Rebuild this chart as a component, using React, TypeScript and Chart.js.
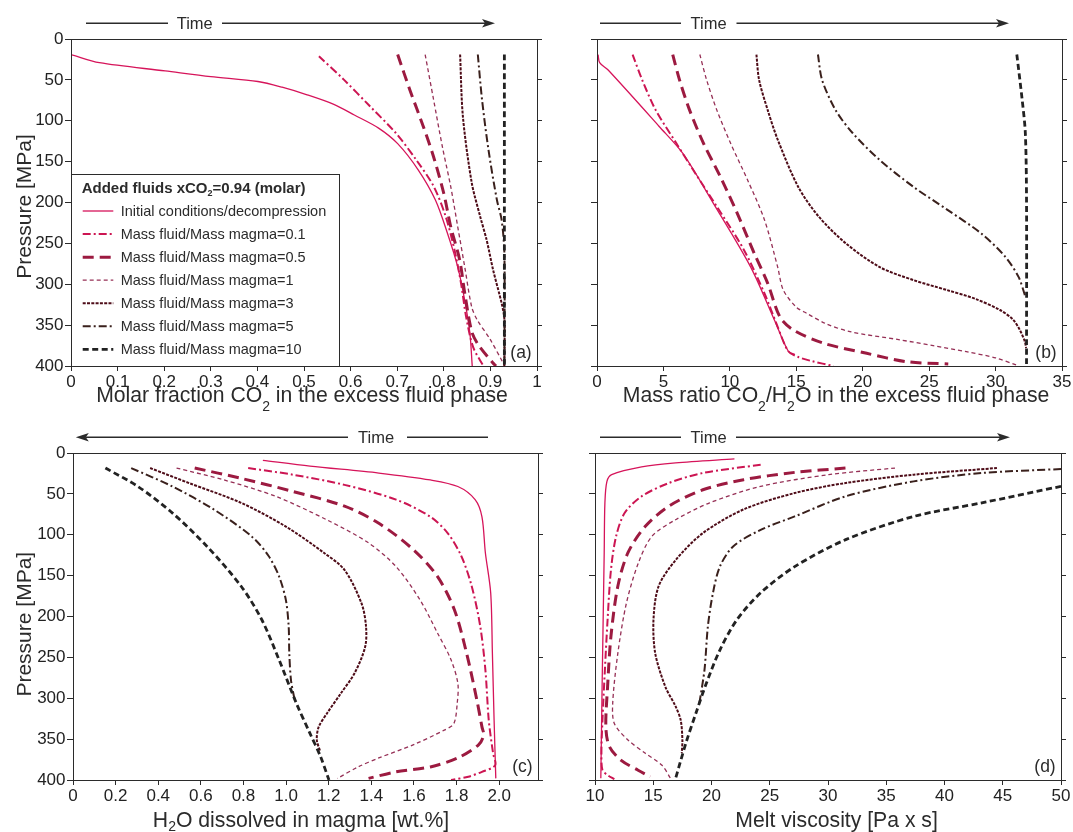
import React, { useEffect, useRef } from 'react';
import { Chart, registerables } from 'chart.js';
Chart.register(...registerables);

type Pt = [number, number];

const FONT = '"Liberation Sans", Arial, Helvetica, sans-serif';
const INK = '#2b2b2b';

// ---------- series styling ----------
const SERIES_NAMES = [
  'Initial conditions/decompression',
  'Mass fluid/Mass magma=0.1',
  'Mass fluid/Mass magma=0.5',
  'Mass fluid/Mass magma=1',
  'Mass fluid/Mass magma=3',
  'Mass fluid/Mass magma=5',
  'Mass fluid/Mass magma=10',
];
const SERIES_COLORS = ['#d6145a', '#cc1552', '#9c1a40', '#963056', '#4e0c18', '#3a201c', '#222222'];
const SERIES_WIDTHS = [1.3, 2, 3, 1.3, 2, 2, 2.8];
const SERIES_DASHES: number[][] = [[], [8, 3, 2, 3], [11, 6], [4, 3], [3, 1.3], [8, 3, 2, 3], [6, 3.5]];

// ---------- ticks ----------
const yTickValues = [0, 50, 100, 150, 200, 250, 300, 350, 400];
const yTickLabels = ['0', '50', '100', '150', '200', '250', '300', '350', '400'];
const aXTickValues = [0, 0.1, 0.2, 0.3, 0.4, 0.5, 0.6, 0.7, 0.8, 0.9, 1];
const aXTickLabels = ['0', '0.1', '0.2', '0.3', '0.4', '0.5', '0.6', '0.7', '0.8', '0.9', '1'];
const bXTickValues = [0, 5, 10, 15, 20, 25, 30, 35];
const bXTickLabels = ['0', '5', '10', '15', '20', '25', '30', '35'];
const cXTickValues = [0, 0.2, 0.4, 0.6, 0.8, 1.0, 1.2, 1.4, 1.6, 1.8, 2.0];
const cXTickLabels = ['0', '0.2', '0.4', '0.6', '0.8', '1.0', '1.2', '1.4', '1.6', '1.8', '2.0'];
const dXTickValues = [10, 15, 20, 25, 30, 35, 40, 45, 50];
const dXTickLabels = ['10', '15', '20', '25', '30', '35', '40', '45', '50'];

// ---------- panel (a): molar fraction CO2 ----------
const aInitial: Pt[] = [[0, 19], [0.061, 29], [0.202, 39], [0.3, 46], [0.401, 52], [0.453, 59], [0.505, 68], [0.564, 80], [0.608, 93], [0.66, 109], [0.701, 128], [0.745, 160], [0.782, 197], [0.808, 238], [0.83, 279], [0.845, 320], [0.856, 360], [0.861, 400]];
const aM01: Pt[] = [[0.532, 21], [0.586, 50], [0.641, 82], [0.697, 115], [0.741, 148], [0.778, 180], [0.804, 217], [0.823, 258], [0.837, 299], [0.848, 340], [0.863, 377], [0.885, 400]];
const aM05: Pt[] = [[0.701, 19], [0.727, 62], [0.756, 107], [0.778, 144], [0.8, 189], [0.815, 230], [0.834, 270], [0.845, 311], [0.86, 358], [0.874, 374], [0.905, 396], [0.912, 400]];
const aM1: Pt[] = [[0.76, 19], [0.778, 74], [0.797, 132], [0.815, 181], [0.83, 230], [0.845, 279], [0.86, 328], [0.872, 344], [0.899, 367], [0.927, 396], [0.93, 400]];
const aM3: Pt[] = [[0.835, 19], [0.841, 95], [0.86, 176], [0.878, 217], [0.892, 246], [0.906, 283], [0.924, 323], [0.93, 343], [0.93, 400]];
const aM5: Pt[] = [[0.873, 19], [0.882, 74], [0.896, 136], [0.914, 197], [0.924, 221], [0.93, 262], [0.93, 400]];
const aM10: Pt[] = [[0.93, 19], [0.93, 400]];

// ---------- panel (b): mass ratio CO2/H2O ----------
const bInitial: Pt[] = [[0.08, 19], [0.2, 29], [0.84, 38], [4.68, 107], [6.46, 140], [8.76, 201], [11.57, 279], [13.36, 344], [14.4, 382], [14.9, 386]];
const bM01: Pt[] = [[2.68, 19], [3.4, 50], [4.42, 87], [5.95, 127], [7.23, 160], [9.02, 205], [11.06, 258], [12.6, 311], [13.6, 352], [14.4, 382], [15.15, 389], [16.17, 394], [17.79, 400]];
const bM05: Pt[] = [[5.7, 19], [6.21, 50], [6.97, 87], [8.0, 127], [9.27, 168], [10.55, 213], [11.83, 262], [12.85, 299], [13.77, 340], [14.78, 356], [17.03, 372], [20.3, 384.5], [23.31, 394.7], [26.44, 397.6]];
const bM1: Pt[] = [[7.74, 19], [8.25, 50], [9.02, 87], [10.04, 127], [11.32, 172], [12.6, 221], [13.6, 279], [14.02, 307], [15.0, 328], [15.78, 335.5], [17.2, 348], [19.04, 358], [22.8, 368], [25.3, 375], [27.8, 382.5], [30.0, 390], [31.6, 399]];
const bM3: Pt[] = [[12.0, 19], [12.2, 50], [12.85, 87], [13.6, 123], [15.15, 181], [16.68, 217], [18.73, 250], [21.28, 279], [23.83, 295], [26.32, 307], [28.5, 318], [30.33, 331.5], [31.3, 343], [31.83, 356], [32.2, 370], [32.3, 378]];
const bM5: Pt[] = [[16.63, 19], [16.94, 50], [17.96, 87], [19.24, 115], [21.28, 148], [23.83, 181], [26.38, 209], [28.93, 238], [30.71, 266], [31.73, 291], [32.24, 315]];
const bM10: Pt[] = [[31.6, 19], [32.0, 74], [32.24, 115], [32.33, 197], [32.33, 400]];

// ---------- panel (c): H2O dissolved ----------
const cInitial: Pt[] = [[0.891, 9], [1.112, 16], [1.435, 24.5], [1.677, 33], [1.806, 41], [1.887, 57], [1.919, 78], [1.935, 122], [1.96, 171], [1.968, 245], [1.976, 327], [1.984, 398]];
const cM01: Pt[] = [[0.822, 18.4], [1.031, 26.5], [1.274, 39], [1.516, 57], [1.677, 78], [1.758, 98], [1.822, 126], [1.871, 163], [1.911, 212], [1.935, 265], [1.951, 327], [1.971, 367], [1.981, 382], [1.919, 390], [1.855, 396], [1.774, 400]];
const cM05: Pt[] = [[0.571, 18.4], [0.789, 31], [1.031, 47], [1.274, 65], [1.435, 86], [1.596, 118], [1.71, 151], [1.79, 192], [1.847, 245], [1.895, 302], [1.919, 335], [1.927, 345], [1.903, 357], [1.806, 373], [1.677, 384], [1.516, 390], [1.387, 398]];
const cM1: Pt[] = [[0.486, 18.4], [0.709, 33], [0.951, 53], [1.193, 82], [1.387, 110], [1.516, 139], [1.629, 180], [1.71, 220], [1.774, 253], [1.806, 282], [1.803, 306], [1.787, 331], [1.742, 339], [1.596, 357], [1.435, 373], [1.338, 384], [1.241, 398]];
const cM3: Pt[] = [[0.362, 18.4], [0.547, 37], [0.789, 61], [0.999, 90], [1.177, 122], [1.274, 143], [1.354, 184], [1.375, 212], [1.371, 237], [1.322, 269], [1.257, 294], [1.193, 318], [1.153, 335], [1.144, 351], [1.16, 365]];
const cM5: Pt[] = [[0.273, 18.4], [0.467, 41], [0.66, 69], [0.838, 102], [0.918, 126], [0.967, 151], [0.999, 180], [1.012, 212], [1.015, 245], [1.023, 278], [1.04, 302]];
const cM10: Pt[] = [[0.152, 18.4], [0.305, 41], [0.467, 73.5], [0.628, 114], [0.789, 163], [0.886, 204], [0.967, 253], [1.048, 306], [1.112, 343], [1.161, 371], [1.201, 400]];

// ---------- panel (d): melt viscosity ----------
const dInitial: Pt[] = [[21.97, 7.3], [16.92, 12.2], [14.0, 17.1], [11.43, 26.5], [11.02, 35], [10.85, 61], [10.79, 122], [10.7, 204], [10.61, 286], [10.5, 398]];
const dM01: Pt[] = [[24.22, 14.3], [19.26, 24.5], [16.34, 36.7], [14.0, 53], [12.54, 73.5], [11.81, 102], [11.37, 143], [11.08, 204], [10.85, 265], [10.64, 327], [10.55, 367], [10.64, 388], [11.08, 394], [11.66, 399]];
const dM05: Pt[] = [[31.5, 18.4], [27.14, 23.7], [22.76, 32.7], [19.26, 45], [16.34, 65], [14.3, 90], [12.83, 122], [11.96, 163], [11.37, 224], [11.08, 286], [10.93, 335], [11.23, 359], [12.25, 376], [13.7, 388], [14.73, 396]];
const dM1: Pt[] = [[35.75, 18.4], [30.06, 26.5], [24.22, 40.8], [19.84, 61], [16.92, 81.6], [14.88, 102], [13.71, 135], [12.69, 184], [11.96, 245], [11.52, 306], [11.66, 331], [12.83, 351], [14.29, 367], [15.75, 382], [16.48, 398]];
const dM3: Pt[] = [[44.5, 18.4], [37.36, 26.5], [31.52, 36.7], [27.14, 49], [22.76, 69], [19.26, 98], [16.92, 131], [15.46, 163], [15.02, 204], [15.17, 245], [16.04, 286], [16.92, 310], [17.36, 327], [17.5, 351], [17.45, 367]];
const dM5: Pt[] = [[50, 19.6], [43.2, 24.5], [37.36, 34.7], [31.52, 53], [27.14, 77.6], [24.22, 94], [21.88, 114], [20.72, 139], [20.13, 171], [19.69, 212], [19.4, 265], [18.96, 306]];
const dM10: Pt[] = [[50, 40.8], [43.2, 61], [37.36, 77.6], [31.52, 106], [27.14, 139], [24.22, 171], [22.18, 204], [20.72, 241], [19.55, 282], [18.67, 318], [17.8, 355], [16.92, 398]];

// ---------- panel specs ----------
type Seg = [string, boolean];
interface TimeSpec { y: number; textX: number; textY: number; s1: [number, number]; s2: [number, number]; dir: 1 | -1 }
interface PanelSpec {
  key: string; px: number; py: number; w: number; h: number;
  area: { l: number; r: number; t: number; b: number };
  xMin: number; xMax: number; xTicks: number[]; xLabels: string[];
  xTitle: Seg[]; xTitleX: number; xTitleY: number; subDrop: number;
  yTitle: boolean; yTitleX: number; yTitleY: number;
  tag: string; time: TimeSpec; legend: boolean; series: Pt[][];
}

const PANELS: PanelSpec[] = [
  {
    key: 'a', px: 0, py: 0, w: 560, h: 420, area: { l: 71, r: 537, t: 39, b: 366 },
    xMin: 0, xMax: 1, xTicks: aXTickValues, xLabels: aXTickLabels,
    xTitle: [['Molar fraction CO', false], ['2', true], [' in the excess fluid phase', false]], xTitleX: 302, xTitleY: 402, subDrop: 9,
    yTitle: true, yTitleX: 30.5, yTitleY: 206.5, tag: '(a)',
    time: { y: 23.3, textX: 176.7, textY: 28.5, s1: [86, 168], s2: [222, 495], dir: 1 },
    legend: true, series: [aInitial, aM01, aM05, aM1, aM3, aM5, aM10],
  },
  {
    key: 'b', px: 540, py: 0, w: 533, h: 420, area: { l: 57, r: 522, t: 39, b: 366 },
    xMin: 0, xMax: 35, xTicks: bXTickValues, xLabels: bXTickLabels,
    xTitle: [['Mass ratio CO', false], ['2', true], ['/H', false], ['2', true], ['O in the excess fluid phase', false]], xTitleX: 296, xTitleY: 401.7, subDrop: 9,
    yTitle: false, yTitleX: 0, yTitleY: 0, tag: '(b)',
    time: { y: 23.3, textX: 150.6, textY: 28.5, s1: [60, 141], s2: [196.5, 469], dir: 1 },
    legend: false, series: [bInitial, bM01, bM05, bM1, bM3, bM5, bM10],
  },
  {
    key: 'c', px: 0, py: 420, w: 560, h: 412, area: { l: 73, r: 538, t: 33, b: 360 },
    xMin: 0, xMax: 2.182, xTicks: cXTickValues, xLabels: cXTickLabels,
    xTitle: [['H', false], ['2', true], ['O dissolved in magma [wt.%]', false]], xTitleX: 301, xTitleY: 406.5, subDrop: 4,
    yTitle: true, yTitleX: 30.5, yTitleY: 204.2, tag: '(c)',
    time: { y: 17.3, textX: 358, textY: 22.7, s1: [75.8, 348], s2: [407, 488], dir: -1 },
    legend: false, series: [cInitial, cM01, cM05, cM1, cM3, cM5, cM10],
  },
  {
    key: 'd', px: 540, py: 420, w: 533, h: 412, area: { l: 55, r: 521, t: 33, b: 360 },
    xMin: 10, xMax: 50, xTicks: dXTickValues, xLabels: dXTickLabels,
    xTitle: [['Melt viscosity [Pa x s]', false]], xTitleX: 296.6, xTitleY: 406.5, subDrop: 4,
    yTitle: false, yTitleX: 0, yTitleY: 0, tag: '(d)',
    time: { y: 17.3, textX: 150.6, textY: 22.7, s1: [60, 141], s2: [196, 470], dir: 1 },
    legend: false, series: [dInitial, dM01, dM05, dM1, dM3, dM5, dM10],
  },
];

// ---------- drawing helpers ----------
function drawRich(ctx: CanvasRenderingContext2D, segs: Seg[], cx: number, y: number, size: number, subSize: number, subDrop: number, weight = '') {
  const main = `${weight}${size}px ${FONT}`;
  const sub = `${weight}${subSize}px ${FONT}`;
  let total = 0;
  for (const [t, s] of segs) { ctx.font = s ? sub : main; total += ctx.measureText(t).width; }
  let x = cx - total / 2;
  ctx.textAlign = 'left';
  ctx.textBaseline = 'alphabetic';
  for (const [t, s] of segs) {
    ctx.font = s ? sub : main;
    ctx.fillText(t, x, s ? y + subDrop : y);
    x += ctx.measureText(t).width;
  }
}

function drawLegend(ctx: CanvasRenderingContext2D) {
  const L = 71.5, T = 174.5, R = 339.5, B = 366.5;
  ctx.save();
  ctx.fillStyle = '#ffffff';
  ctx.fillRect(L, T, R - L, B - T);
  ctx.strokeStyle = INK; ctx.lineWidth = 1; ctx.setLineDash([]);
  ctx.strokeRect(L, T, R - L, B - T);
  ctx.fillStyle = INK;
  const segs: Seg[] = [['Added fluids xCO', false], ['2', true], ['=0.94 (molar)', false]];
  let x = 81.7;
  ctx.textAlign = 'left'; ctx.textBaseline = 'alphabetic';
  for (const [t, s] of segs) {
    ctx.font = s ? `bold 9px ${FONT}` : `bold 15px ${FONT}`;
    ctx.fillText(t, x, s ? 196 : 192.7);
    x += ctx.measureText(t).width;
  }
  for (let i = 0; i < SERIES_NAMES.length; i++) {
    const base = 216 + i * 23.07;
    const ly = base - 5;
    ctx.beginPath();
    ctx.strokeStyle = SERIES_COLORS[i];
    ctx.lineWidth = SERIES_WIDTHS[i];
    ctx.setLineDash(SERIES_DASHES[i]);
    ctx.moveTo(82.7, ly); ctx.lineTo(113.3, ly);
    ctx.stroke();
    ctx.setLineDash([]);
    ctx.fillStyle = INK;
    ctx.font = `14.5px ${FONT}`;
    ctx.fillText(SERIES_NAMES[i], 120.7, base);
  }
  ctx.restore();
}

function decorPlugin(spec: PanelSpec) {
  return {
    id: 'decor_' + spec.key,
    afterDraw(chart: any) {
      const ctx: CanvasRenderingContext2D = chart.ctx;
      const a = chart.chartArea;
      ctx.save();
      ctx.setLineDash([]);
      ctx.strokeStyle = INK; ctx.lineWidth = 1;
      ctx.strokeRect(Math.round(a.left) + 0.5, Math.round(a.top) + 0.5, Math.round(a.right) - Math.round(a.left), Math.round(a.bottom) - Math.round(a.top));
      const t = spec.time;
      ctx.lineWidth = 1.4; ctx.strokeStyle = INK; ctx.fillStyle = INK;
      ctx.beginPath();
      if (t.dir > 0) {
        ctx.moveTo(t.s1[0], t.y); ctx.lineTo(t.s1[1], t.y);
        ctx.moveTo(t.s2[0], t.y); ctx.lineTo(t.s2[1] - 10, t.y);
      } else {
        ctx.moveTo(t.s1[0] + 10, t.y); ctx.lineTo(t.s1[1], t.y);
        ctx.moveTo(t.s2[0], t.y); ctx.lineTo(t.s2[1], t.y);
      }
      ctx.stroke();
      ctx.beginPath();
      if (t.dir > 0) {
        const tip = t.s2[1];
        ctx.moveTo(tip, t.y); ctx.lineTo(tip - 13, t.y - 4.3); ctx.lineTo(tip - 10, t.y); ctx.lineTo(tip - 13, t.y + 4.3);
      } else {
        const tip = t.s1[0];
        ctx.moveTo(tip, t.y); ctx.lineTo(tip + 13, t.y - 4.3); ctx.lineTo(tip + 10, t.y); ctx.lineTo(tip + 13, t.y + 4.3);
      }
      ctx.closePath(); ctx.fill();
      ctx.font = `16.5px ${FONT}`; ctx.textAlign = 'left'; ctx.textBaseline = 'alphabetic';
      ctx.fillText('Time', t.textX, t.textY);
      ctx.fillStyle = INK;
      drawRich(ctx, spec.xTitle, spec.xTitleX, spec.xTitleY, 21.2, 14, spec.subDrop);
      if (spec.yTitle) {
        ctx.save();
        ctx.translate(spec.yTitleX, spec.yTitleY);
        ctx.rotate(-Math.PI / 2);
        ctx.font = `21px ${FONT}`; ctx.textAlign = 'center'; ctx.textBaseline = 'alphabetic';
        ctx.fillText('Pressure [MPa]', 0, 0);
        ctx.restore();
      }
      ctx.font = `17.5px ${FONT}`; ctx.textAlign = 'right'; ctx.textBaseline = 'alphabetic';
      ctx.fillText(spec.tag, a.right - 5.3, a.bottom - 8.2);
      ctx.restore();
      if (spec.legend) drawLegend(ctx);
    },
  };
}

function buildConfig(spec: PanelSpec): any {
  const { area, w, h } = spec;
  const tickFont = { family: FONT, size: 17 };
  const datasets = spec.series.map((pts, i) => ({
    label: SERIES_NAMES[i],
    data: pts.map(([x, y]) => ({ x, y })),
    borderColor: SERIES_COLORS[i],
    backgroundColor: SERIES_COLORS[i],
    borderWidth: SERIES_WIDTHS[i],
    borderDash: SERIES_DASHES[i],
    pointRadius: 0,
    fill: false,
    tension: 0.3,
    order: 6 - i,
  }));
  return {
    type: 'line',
    data: { datasets },
    options: {
      animation: false,
      responsive: false,
      devicePixelRatio: 1,
      events: [],
      layout: { padding: { left: 0, right: 0, top: area.t, bottom: 0 } },
      plugins: { legend: { display: false }, tooltip: { enabled: false }, title: { display: false } },
      scales: {
        x: {
          type: 'linear', position: 'bottom', min: spec.xMin, max: spec.xMax,
          afterFit: (s: any) => { s.height = h - area.b; },
          afterBuildTicks: (s: any) => { s.ticks = spec.xTicks.map((v) => ({ value: v })); },
          ticks: {
            autoSkip: false, maxRotation: 0, minRotation: 0, padding: 1, color: '#222', font: tickFont,
            callback: (_v: any, i: number) => spec.xLabels[i],
          },
          grid: { drawOnChartArea: false, drawTicks: true, tickLength: 5, color: INK, lineWidth: 1 },
          border: { display: true, color: INK, width: 1 },
        },
        y: {
          type: 'linear', position: 'left', reverse: true, min: 0, max: 400,
          afterFit: (s: any) => { s.width = area.l; },
          afterBuildTicks: (s: any) => { s.ticks = yTickValues.map((v) => ({ value: v })); },
          ticks: {
            display: spec.yTitle, autoSkip: false, padding: 1.5, color: '#222', font: tickFont,
            callback: (_v: any, i: number) => yTickLabels[i],
          },
          grid: { drawOnChartArea: false, drawTicks: true, tickLength: 6, color: INK, lineWidth: 1 },
          border: { display: true, color: INK, width: 1 },
        },
        y2: {
          type: 'linear', position: 'right', reverse: true, min: 0, max: 400,
          afterFit: (s: any) => { s.width = w - area.r; },
          afterBuildTicks: (s: any) => { s.ticks = yTickValues.map((v) => ({ value: v })); },
          ticks: { display: false },
          grid: { drawOnChartArea: false, drawTicks: true, tickLength: 5, color: INK, lineWidth: 1 },
          border: { display: true, color: INK, width: 1 },
        },
      },
    },
    plugins: [decorPlugin(spec)],
  };
}

function Panel({ spec }: { spec: PanelSpec }) {
  const ref = useRef<HTMLCanvasElement>(null);
  useEffect(() => {
    const chart = new Chart(ref.current as HTMLCanvasElement, buildConfig(spec));
    return () => chart.destroy();
  }, [spec]);
  return (
    <canvas
      ref={ref}
      width={spec.w}
      height={spec.h}
      style={{ position: 'absolute', left: spec.px, top: spec.py, width: spec.w, height: spec.h }}
    />
  );
}

export default function App() {
  return (
    <div style={{ position: 'absolute', left: 0, top: 0, width: 1073, height: 832, background: '#fff', overflow: 'hidden' }}>
      {PANELS.map((p) => <Panel key={p.key} spec={p} />)}
    </div>
  );
}
